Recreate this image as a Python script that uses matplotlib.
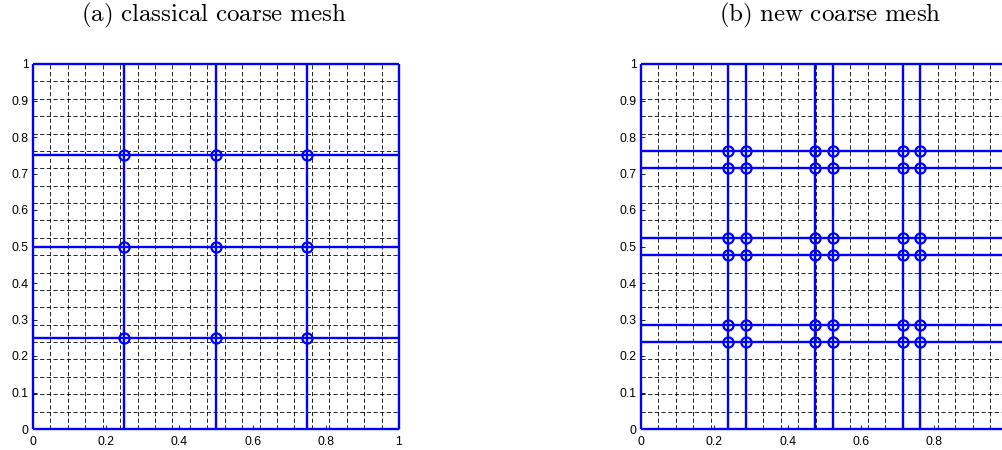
import numpy as np
import matplotlib
matplotlib.use("Agg")
import matplotlib.pyplot as plt

plt.rcParams['mathtext.fontset'] = 'cm'

# ---- data ----
titles = ["(a) classical coarse mesh", "(b) new coarse mesh"]
n_fine = 21                                   # fine mesh cells per side
fine_lines = list(np.linspace(0, 1, n_fine + 1))
coarse_a = [0.25, 0.5, 0.75]
coarse_b = [0.238, 0.286, 0.476, 0.524, 0.714, 0.762]
xticks = [0, 0.2, 0.4, 0.6, 0.8, 1]
xticklabels_a = ["0", "0.2", "0.4", "0.6", "0.8", "1"]
xticklabels_b = ["0", "0.2", "0.4", "0.6", "0.8", ""]   # "1" falls outside the picture
yticks = [0, 0.1, 0.2, 0.3, 0.4, 0.5, 0.6, 0.7, 0.8, 0.9, 1]
yticklabels = ["0", "0.1", "0.2", "0.3", "0.4", "0.5", "0.6", "0.7", "0.8", "0.9", "1"]

W, H = 1003, 450
fig = plt.figure(figsize=(W / 100, H / 100), dpi=100)

blue = "#0000ff"
tickfont = dict(family="Liberation Sans", size=8.8)


def draw(ax, coarse, title, title_x, xticklabels):
    # fine mesh (dashed)
    for v in fine_lines:
        ax.plot([v, v], [0, 1], color="black", lw=0.6, ls=(0, (5, 3)), zorder=1)
        ax.plot([0, 1], [v, v], color="black", lw=0.6, ls=(0, (5, 3)), zorder=1)
    # coarse mesh (blue) including boundary
    allc = [0.0] + coarse + [1.0]
    for v in allc:
        ax.plot([v, v], [0, 1], color=blue, lw=1.7, zorder=3, clip_on=False,
                solid_capstyle="butt")
        ax.plot([0, 1], [v, v], color=blue, lw=1.7, zorder=3, clip_on=False,
                solid_capstyle="butt")
    # interior nodes
    xs, ys = np.meshgrid(coarse, coarse)
    ax.plot(xs.ravel(), ys.ravel(), ls="none", marker="o", ms=7.3,
            mfc="none", mec=blue, mew=1.6, zorder=4)
    ax.plot(xs.ravel(), ys.ravel(), ls="none", marker="+", ms=7.0,
            mec=blue, mew=1.3, zorder=4)
    ax.set_xlim(0, 1)
    ax.set_ylim(0, 1)
    ax.set_xticks(xticks)
    ax.set_xticklabels(xticklabels, **tickfont)
    ax.set_yticks(yticks)
    ax.set_yticklabels(yticklabels, **tickfont)
    ax.tick_params(direction="in", length=3, width=0.6, top=False, right=False)
    ax.tick_params(axis="x", pad=5)
    ax.tick_params(axis="y", pad=3)
    for s in ax.spines.values():
        s.set_visible(False)
    fig.text(title_x, 1 - 15 / H, r"$\mathrm{" + title.replace(" ", r"\ ") + "}$",
             ha="center", va="center", fontsize=18)


ax1 = fig.add_axes([33 / W, 21 / H, 366 / W, 365 / H])
draw(ax1, coarse_a, titles[0], 214 / W, xticklabels_a)
ax2 = fig.add_axes([641 / W, 21 / H, 366.5 / W, 365 / H])
draw(ax2, coarse_b, titles[1], 830 / W, xticklabels_b)

fig.savefig("out.png", dpi=100)
